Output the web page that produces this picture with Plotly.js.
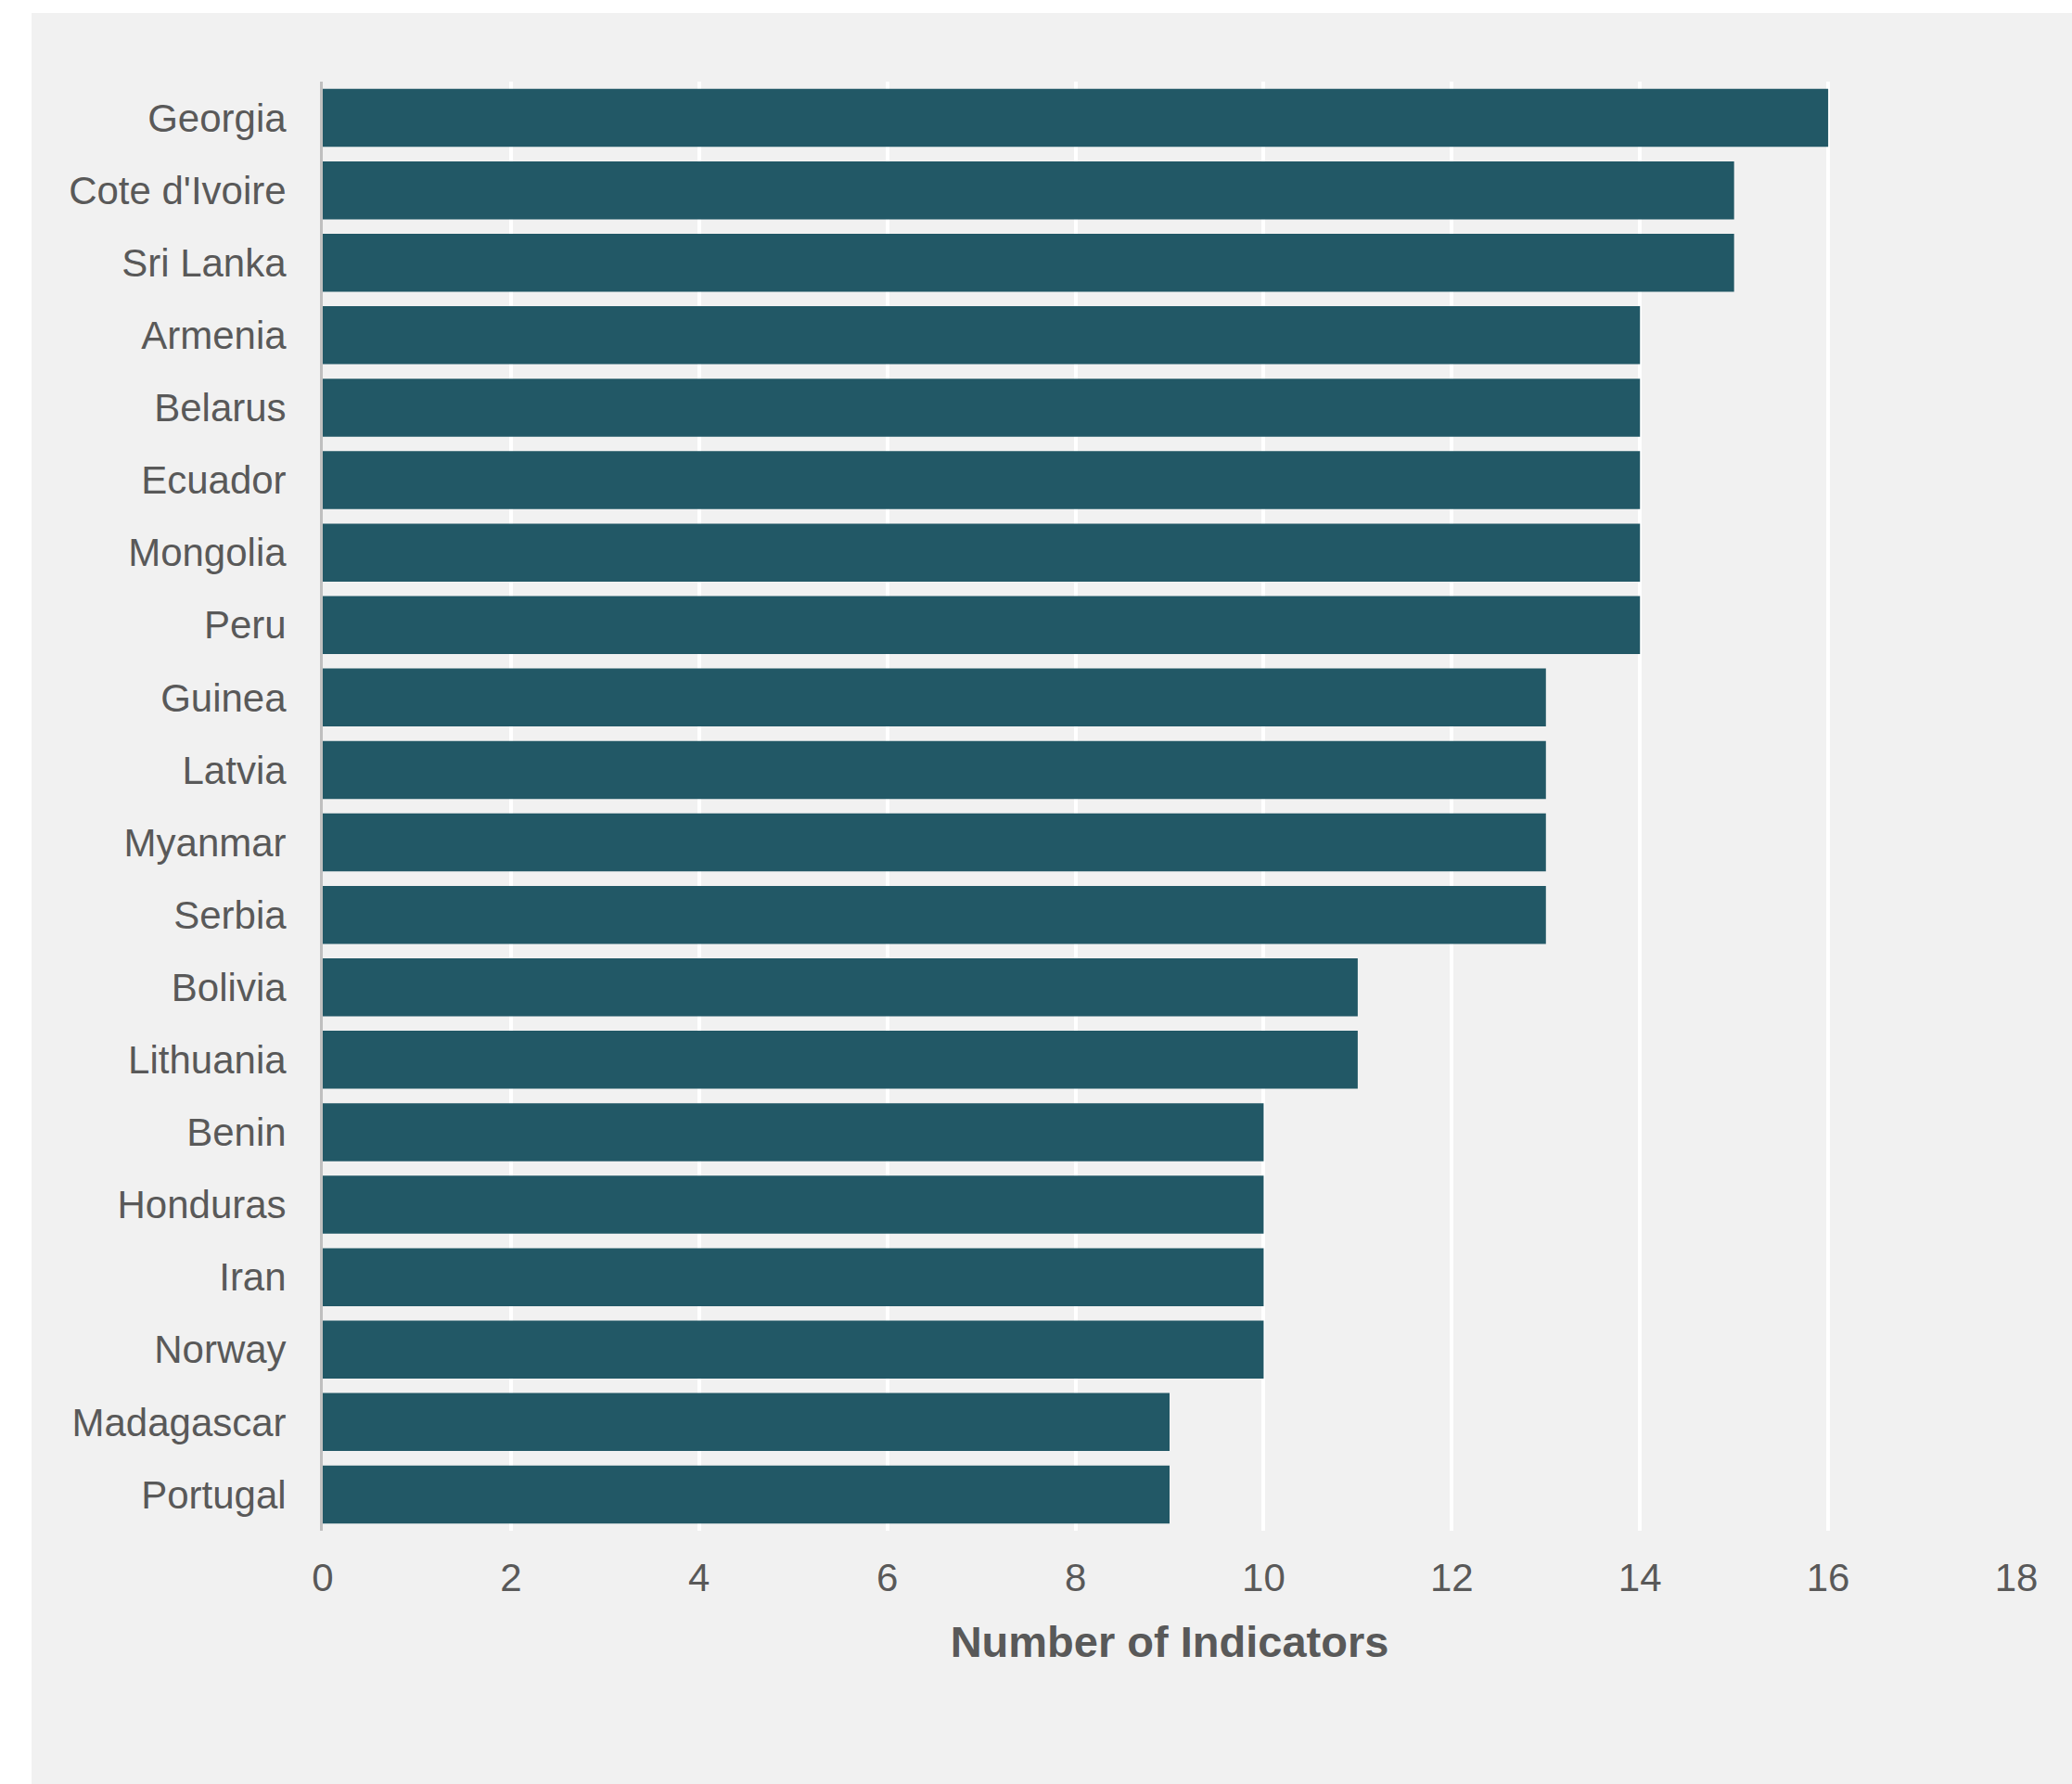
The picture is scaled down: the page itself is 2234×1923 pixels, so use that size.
<!DOCTYPE html>
<html>
<head>
<meta charset="utf-8">
<script src="https://cdn.plot.ly/plotly-3.0.1.min.js"></script>
<style>
  html, body { margin: 0; padding: 0; background: #ffffff; }
  #chart { position: absolute; left: 34px; top: 14px; width: 2200px; height: 1909px; }
</style>
</head>
<body>
<div id="chart"></div>
<script>
const countries = ["Georgia", "Cote d'Ivoire", "Sri Lanka", "Armenia", "Belarus", "Ecuador",
  "Mongolia", "Peru", "Guinea", "Latvia", "Myanmar", "Serbia", "Bolivia", "Lithuania",
  "Benin", "Honduras", "Iran", "Norway", "Madagascar", "Portugal"];
const indicators = [16, 15, 15, 14, 14, 14, 14, 14, 13, 13, 13, 13, 11, 11, 10, 10, 10, 10, 9, 9];
const xTicks = [0, 2, 4, 6, 8, 10, 12, 14, 16, 18];
const xTitle = "Number of Indicators";

const trace = {
  type: 'bar',
  orientation: 'h',
  y: countries,
  x: indicators,
  marker: { color: '#225866', line: { width: 0 } },
  hoverinfo: 'x+y'
};

const layout = {
  width: 2200,
  height: 1909,
  paper_bgcolor: '#f1f1f1',
  plot_bgcolor: '#f1f1f1',
  margin: { l: 314, r: 60, t: 74, b: 273, pad: 0 },
  bargap: 0.2,
  showlegend: false,
  font: { family: 'Arial, "Liberation Sans", sans-serif', color: '#595959', size: 42 },
  xaxis: {
    range: [0, 18],
    tickvals: xTicks,
    ticktext: xTicks.map(String),
    showgrid: true,
    gridcolor: '#ffffff',
    gridwidth: 4,
    zeroline: false,
    showline: false,
    ticks: '',
    ticklabelstandoff: 22,
    tickfont: { size: 42, color: '#595959' },
    title: { text: xTitle, font: { size: 47, color: '#595959', family: 'Arial, "Liberation Sans", sans-serif', weight: 'bold' }, standoff: 30 }
  },
  yaxis: {
    type: 'category',
    autorange: 'reversed',
    showgrid: false,
    zeroline: false,
    showline: true,
    linecolor: '#bfbfbf',
    linewidth: 3,
    ticks: '',
    ticklabelstandoff: 28,
    tickfont: { size: 42, color: '#595959' }
  }
};

Plotly.newPlot('chart', [trace], layout, { displayModeBar: false, staticPlot: true });
</script>
</body>
</html>
